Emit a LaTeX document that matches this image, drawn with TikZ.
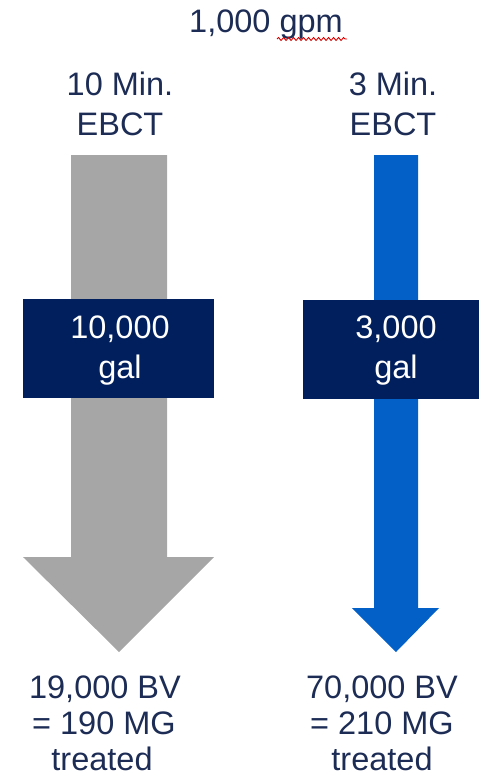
\documentclass[tikz,border=0pt]{standalone}
\usepackage{fontspec}
\setmainfont{Liberation Sans}
\usetikzlibrary{decorations.pathmorphing}
\definecolor{txtnavy}{HTML}{1C2C55}
\definecolor{boxnavy}{HTML}{001F5C}
\definecolor{arrowgray}{HTML}{A6A6A6}
\definecolor{arrowblue}{HTML}{0360C6}
\tikzset{
  lbl/.style={anchor=base, inner sep=0pt, text=txtnavy, font=\fontsize{32.5}{38}\selectfont},
  boxlbl/.style={anchor=base, inner sep=0pt, text=white, font=\fontsize{32.5}{38}\selectfont},
  volbox/.style={fill=boxnavy, draw=none},
}
\begin{document}
\begin{tikzpicture}[x=1pt,y=-1pt]
\useasboundingbox (0,0) rectangle (482,784);
% arrows
\fill[arrowgray] (71,155) -- (167,155) -- (167,557) -- (214,557) -- (119,652) -- (23,557) -- (71,557) -- cycle;
\fill[arrowblue] (374,155) -- (418,155) -- (418,608) -- (439,608) -- (396,652) -- (352,608) -- (374,608) -- cycle;
% boxes
\fill[volbox] (23,299) rectangle (214,398);
\fill[volbox] (303,300) rectangle (479,399);
% title
\node[lbl] (flow) at (266,33) {1,000 gpm};
\draw[red!85!black, line width=0.9pt, decorate, decoration={snake, amplitude=1.5pt, segment length=5pt}] (277,39) -- (347,39);
% top labels
\node[lbl] (l1a) at (120,95) {10 Min.};
\node[lbl] (l1b) at (120,135) {EBCT};
\node[lbl] (r1a) at (393,95) {3 Min.};
\node[lbl] (r1b) at (393,135) {EBCT};
% box labels
\node[boxlbl] (lva) at (120,338) {10,000};
\node[boxlbl] (lvb) at (120,378) {gal};
\node[boxlbl] (rva) at (396,338) {3,000};
\node[boxlbl] (rvb) at (396,378) {gal};
% bottom labels
\node[lbl] (lb1) at (105,698) {19,000 BV};
\node[lbl] (lb2) at (104,734) {= 190 MG};
\node[lbl] (lb3) at (102,770) {treated};
\node[lbl] (rb1) at (382,698) {70,000 BV};
\node[lbl] (rb2) at (382,734) {= 210 MG};
\node[lbl] (rb3) at (382,770) {treated};
\end{tikzpicture}
\end{document}
